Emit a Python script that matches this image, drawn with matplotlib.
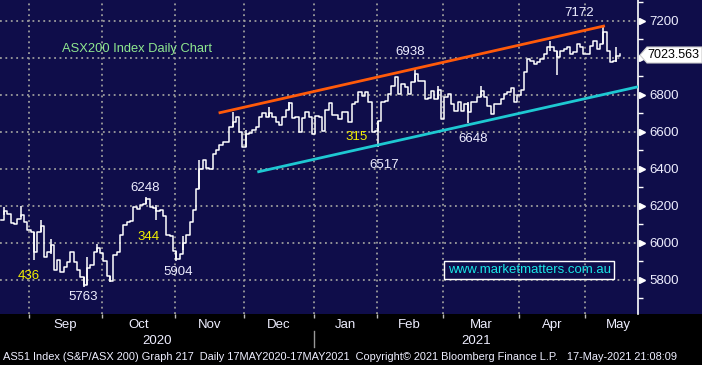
import matplotlib
matplotlib.use("Agg")
import matplotlib.pyplot as plt
import numpy as np
from matplotlib.patches import Polygon, Rectangle
from matplotlib.transforms import blended_transform_factory

# daily closes, one list per month (trading days only)
close_aug = [6125, 6170, 6155, 6110, 6105, 6128, 6150, 6115, 6072]
close_sep = [6060, 5950, 6060, 6090, 5925, 5952, 5990, 5853, 5907, 5844, 5870,
             5898, 5952, 5898, 5853, 5817, 5775, 5862, 5880, 5952, 5970, 5944]
close_oct = [5900, 5820, 5795, 5935, 5950, 6045, 6095, 6112, 6120, 6195, 6185,
             6205, 6212, 6235, 6195, 6190, 6170, 6180, 6145, 6045, 6040, 5955]
close_nov = [5915, 5940, 6000, 6045, 6115, 6180, 6292, 6400, 6446, 6404, 6400,
             6482, 6500, 6527, 6545, 6548, 6627, 6654, 6682, 6600, 6518]
close_dec = [6590, 6595, 6610, 6627, 6682, 6700, 6682, 6700, 6682, 6654, 6636,
             6682, 6718, 6755, 6673, 6682, 6600, 6673, 6709, 6682, 6590]
close_jan = [6684, 6681, 6607, 6720, 6757, 6690, 6690, 6670, 6706, 6706, 6652,
             6750, 6760, 6814, 6796, 6814, 6760, 6600, 6607]
close_feb = [6660, 6760, 6765, 6805, 6850, 6895, 6805, 6860, 6842, 6805, 6868,
             6913, 6877, 6877, 6778, 6785, 6820, 6778, 6825, 6670]
close_mar = [6787, 6805, 6750, 6715, 6760, 6715, 6750, 6706, 6760, 6760, 6787,
             6823, 6787, 6742, 6697, 6750, 6750, 6778, 6805, 6814, 6840, 6760, 6800]
close_apr = [6827, 6924, 6995, 6986, 6968, 6977, 6995, 7021, 7057, 7057, 7039,
             7003, 7039, 7048, 7057, 7021, 7030, 7074, 7057, 7021]
close_may = [7021, 7065, 7092, 7048, 7074, 7140, 7039, 6977, 6986, 7010, 7023.563]

month_names = ["Aug", "Sep", "Oct", "Nov", "Dec", "Jan", "Feb", "Mar", "Apr", "May"]
month_closes = [close_aug, close_sep, close_oct, close_nov, close_dec,
                close_jan, close_feb, close_mar, close_apr, close_may]

# intraday wicks that stick out of the close-to-close steps (day index, low, high)
wick_day = [1, 6, 10, 12, 15, 25, 26, 29, 33, 44, 47, 53, 55, 60, 70, 74, 81, 87,
            114, 125, 132, 141, 145, 166, 168, 182, 186]
wick_low = [6150, 6140, 5907, 6060, 5940, 5763, 5775, 5950, 5789, 6212, 6125, 5904,
            5960, 6292, 6627, 6518, 6682, 6718, 6517, 6868, 6778, 6648, 6787, 7039,
            6906, 7074, 6977]
wick_high = [6195, 6200, 6060, 6126, 6024, 5817, 5925, 5997, 5820, 6248, 6205, 5955,
             6035, 6450, 6709, 6610, 6736, 6764, 6660, 6938, 6850, 6760, 6850, 7092,
             7039, 7172, 7060]

# trend lines (day index, level)
upper_x = [66.2, 182.1]
upper_y = [6704, 7172]
lower_x = [77.9, 193.0]
lower_y = [6385, 6846]

# marked levels on the chart
label_text = ["7172", "6938", "6517", "6648", "6248", "5904", "5763"]
label_x = [174.7, 123.6, 115.8, 142.6, 43.5, 53.5, 24.8]
label_y = [7243, 7032, 6421, 6562, 6297, 5843, 5708]
count_text = ["315", "344", "436"]
count_x = [107.6, 44.5, 8.5]
count_y = [6572, 6032, 5821]

y_ticks = [5800, 6000, 6200, 6400, 6600, 6800, 7000, 7200]
y_labels = ["5800", "6000", "6200", "6400", "6600", "6800", "", "7200"]  # 7000 sits under the price tag
last_price = "7023.563"
footer = ("AS51 Index (S&P/ASX 200) Graph 217  Daily 17MAY2020-17MAY2021  "
          "Copyright\u00a9 2021 Bloomberg Finance L.P.   17-May-2021 21:08:09")

NAVY = "#0f0d4a"
TXT = "#eeeeff"
W, H = 702, 365
plt.rcParams["font.family"] = ["Liberation Sans", "DejaVu Sans"]

closes = np.concatenate([np.array(m, dtype=float) for m in month_closes])
days = np.arange(len(closes))
month_len = np.array([len(m) for m in month_closes])
bounds = np.cumsum(month_len) - 0.5  # end of each month

fig = plt.figure(figsize=(W / 100, H / 100), dpi=100, facecolor=NAVY)
fig.add_artist(Rectangle((0, 0), 1, 51 / H, transform=fig.transFigure,
                         facecolor="black", edgecolor="none", zorder=-5))
ax = fig.add_axes([0, 51 / H, 638 / W, 314 / H])
ax.set_facecolor(NAVY)
ax.set_xlim(-0.26, 192.5)
ax.set_ylim(5616, 7313)

# grid
ax.set_xticks(bounds[:-1])
ax.set_xticklabels([])
ax.set_yticks(y_ticks)
ax.set_yticklabels(y_labels)
ax.set_yticks(np.arange(5700, 7301, 100), minor=True)
ax.grid(True, which="major", color="#9c9c9c", ls=(0, (1, 2)), lw=1.3)
ax.set_axisbelow(True)

# price bars
ax.step(days, closes, where="post", color="white", lw=1.1, zorder=3)
ax.vlines(wick_day, wick_low, wick_high, color="white", lw=1.1, zorder=3)

ax.plot(upper_x, upper_y, color="#ff5a0a", lw=2, zorder=4)
ax.plot(lower_x, lower_y, color="#1ec8d2", lw=2, zorder=4)

for t, x, y in zip(label_text, label_x, label_y):
    ax.text(x, y, t, color=TXT, fontsize=9.5, ha="center", va="center")
for t, x, y in zip(count_text, count_x, count_y):
    ax.text(x, y, t, color="#f4f000", fontsize=9.5, ha="center", va="center")

ax.text(18.5, 7048, "ASX200 Index Daily Chart", color="#8fe88f", fontsize=9.3,
        ha="left", va="center")
ax.text(159.6, 5854, "www.marketmatters.com.au", color="#19e6e6", fontsize=9.5,
        ha="center", va="center",
        bbox=dict(boxstyle="square,pad=0.25", facecolor="none", edgecolor="white", lw=1))

# axes styling
for s in ["top", "left", "bottom"]:
    ax.spines[s].set_visible(False)
ax.spines["right"].set_color("white")
ax.spines["right"].set_linewidth(1.2)
ax.yaxis.tick_right()
ax.tick_params(axis="y", which="major", length=0, pad=8, labelsize=9.5,
               labelcolor=TXT)
ax.tick_params(axis="y", which="minor", length=3.5, width=1, color="white",
               direction="out")
ax.tick_params(axis="x", which="major", length=3, width=1, color="#bbbbbb",
               direction="out")

trans_y = blended_transform_factory(ax.transAxes, ax.transData)
ax.plot(np.full(len(y_ticks), 1 + 4 / 638), y_ticks, ls="none", marker=">",
        ms=5, color="white", transform=trans_y, clip_on=False)

# month and year labels
trans_x = blended_transform_factory(ax.transData, ax.transAxes)
starts = bounds - month_len
for i, name in enumerate(month_names):
    if i == 0:
        continue
    mid = starts[i] + (month_len[i] / 2 if i < len(month_names) - 1 else 10)
    ax.text(mid, -0.036, name, transform=trans_x, color=TXT, fontsize=9.5,
            ha="center", va="center")
year_split = bounds[4]
ax.text(0.5 * (-0.26 + year_split), -0.085, "2020", transform=trans_x, color=TXT,
        fontsize=9.5, ha="center", va="center")
ax.text(0.5 * (year_split + 192.5), -0.085, "2021", transform=trans_x, color=TXT,
        fontsize=9.5, ha="center", va="center")
ax.plot([year_split, year_split], [-0.055, -0.105], transform=trans_x,
        color="#999999", lw=1, clip_on=False)

# last price tag
tag = [(640, 55), (647, 47), (702, 47), (702, 63), (647, 63)]
fig.add_artist(Polygon([(x / W, 1 - y / H) for x, y in tag], closed=True,
                       transform=fig.transFigure, facecolor="white",
                       edgecolor="#cccccc", lw=0.8, zorder=5))
fig.text(673 / W, 1 - 55 / H, last_price, color="black", fontsize=9,
         ha="center", va="center", zorder=6)

fig.text(3 / W, 1 - 357 / H, footer, color=TXT, fontsize=7.9, ha="left",
         va="center")

fig.savefig("out.png", dpi=100, facecolor=NAVY)
